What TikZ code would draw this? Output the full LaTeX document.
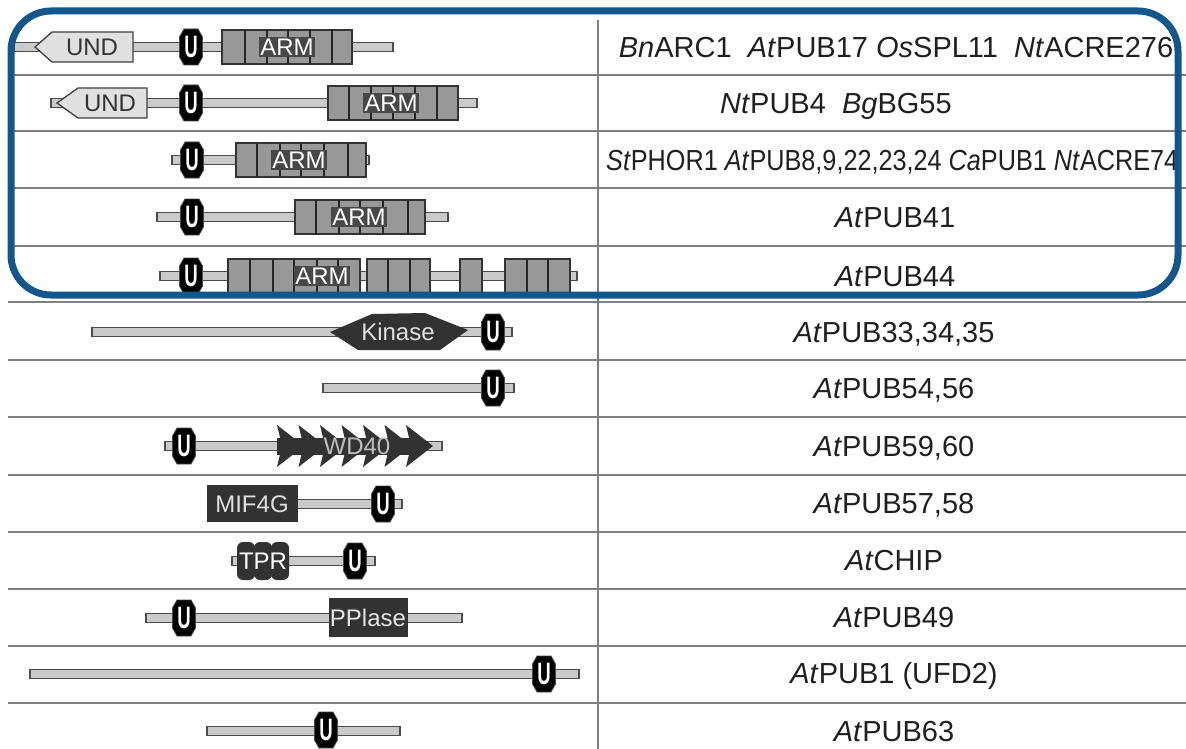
\documentclass[tikz,border=0pt]{standalone}
\usepackage{fontspec}
\setmainfont{Liberation Sans}
\usepackage{graphicx}
\usepackage{tikz}
\definecolor{frameblue}{RGB}{18,86,140}
\definecolor{barfill}{RGB}{202,202,202}
\definecolor{armfill}{RGB}{152,152,152}
\definecolor{darkdom}{RGB}{50,50,50}

\begin{document}
\begin{tikzpicture}[x=1pt, y=-1pt,
    rule/.style={draw=black!50, line width=1.8pt},
    bar/.style={draw=black!70, fill=barfill, line width=1.3pt},
    arm/.style={draw=black!80, fill=armfill, line width=1.3pt},
    armdiv/.style={draw=black!85, line width=1.5pt},
    und/.style={draw=black!75, fill=black!12, line width=1.3pt},
    utext/.style={text=white, inner sep=0pt, font=\fontsize{31}{31}\selectfont\bfseries},
    armlabel/.style={fill=black!72, text=white, inner sep=1.5pt, font=\fontsize{24}{24}\selectfont},
    domtext/.style={inner sep=0pt, font=\fontsize{24}{24}\selectfont},
    protlabel/.style={inner sep=0pt, text height=20.5pt, text depth=0pt, text=black!88, font=\fontsize{29}{29}\selectfont}]

    \useasboundingbox (0,0) rectangle (1186,749);

    % table rules
    \foreach \ry in {75,131,188,246,302,360,417,475,532,589,646,703}
        \draw [rule] (8,\ry) -- (1186,\ry);
    \draw [rule] (598,20) -- (598,749);

    % protein names
    \node [protlabel] (n1) at (896,47) {\textit{Bn}ARC1\ \ \textit{At}PUB17 \textit{Os}SPL11\ \ \textit{Nt}ACRE276};
    \node [protlabel, anchor=west] (n2) at (720,103) {\textit{Nt}PUB4\ \ \textit{Bg}BG55};
    \node [protlabel, anchor=west] (n3) at (606,160) {\scalebox{0.87}[1]{\textit{St}PHOR1 \textit{At}PUB8,9,22,23,24 \textit{Ca}PUB1 \textit{Nt}ACRE74}};
    \node [protlabel] (n4) at (895,217) {\textit{At}PUB41};
    \node [protlabel] (n5) at (895,276) {\textit{At}PUB44};
    \node [protlabel] (n6) at (894,332) {\textit{At}PUB33,34,35};
    \node [protlabel] (n7) at (894,388) {\textit{At}PUB54,56};
    \node [protlabel] (n8) at (894,446) {\textit{At}PUB59,60};
    \node [protlabel] (n9) at (894,503) {\textit{At}PUB57,58};
    \node [protlabel] (n10) at (894,560) {\textit{At}CHIP};
    \node [protlabel] (n11) at (894,617) {\textit{At}PUB49};
    \node [protlabel] (n12) at (894,673) {\textit{At}PUB1 (UFD2)};
    \node [protlabel] (n13) at (894,731) {\textit{At}PUB63};

    % backbones
    \draw [bar] (14,42.5) rectangle (393,51.5);
    \draw [bar] (51,98.5) rectangle (477,107.5);
    \draw [bar] (172,155.5) rectangle (369,164.5);
    \draw [bar] (157,212.5) rectangle (448,221.5);
    \draw [bar] (160,271.5) rectangle (577,280.5);
    \draw [bar] (92,327.5) rectangle (512,336.5);
    \draw [bar] (323,383.5) rectangle (514,392.5);
    \draw [bar] (165,441.5) rectangle (442,450.5);
    \draw [bar] (250,499.5) rectangle (402,508.5);
    \draw [bar] (232,556.5) rectangle (375,565.5);
    \draw [bar] (146,613.5) rectangle (462,622.5);
    \draw [bar] (30,669.5) rectangle (579,678.5);
    \draw [bar] (207,726.5) rectangle (400,735.5);

    % UND
    \draw [und] (35,47) -- (52,32) -- (133,32) -- (133,62) -- (52,62) -- cycle;
    \node [domtext, text=black!80] (und1) at (92,47) {UND};
    \draw [und] (57,103) -- (78,88) -- (147,88) -- (147,118) -- (78,118) -- cycle;
    \node [domtext, text=black!80] (und2) at (110,103) {UND};

    % ARM repeats
    \draw [arm] (222,30) rectangle (352,64);
    \foreach \d in {245,267,288,310,332} \draw [armdiv] (\d,30) -- (\d,64);
    \node [armlabel] (arm1) at (287,47) {ARM};
    \draw [arm] (328,86) rectangle (458,120);
    \foreach \d in {349,371,393,415,437} \draw [armdiv] (\d,86) -- (\d,120);
    \node [armlabel] (arm2) at (391,103) {ARM};
    \draw [arm] (236,143) rectangle (366,177);
    \foreach \d in {257,280,301,324,348} \draw [armdiv] (\d,143) -- (\d,177);
    \node [armlabel] (arm3) at (299,160) {ARM};
    \draw [arm] (295,200) rectangle (425,234);
    \foreach \d in {316,339,360,383,408} \draw [armdiv] (\d,200) -- (\d,234);
    \node [armlabel] (arm4) at (359,217) {ARM};
    \draw [arm] (228,259) rectangle (360,293);
    \foreach \d in {250,273,294,317,338} \draw [armdiv] (\d,259) -- (\d,293);
    \node [armlabel] (arm5) at (322,276) {ARM};
    \draw [arm] (367,259) rectangle (430,293);
    \foreach \d in {388,410} \draw [armdiv] (\d,259) -- (\d,293);
    \draw [arm] (460,259) rectangle (482,293);
    \draw [arm] (505,259) rectangle (570,293);
    \foreach \d in {527,548} \draw [armdiv] (\d,259) -- (\d,293);

    % Kinase
    \fill [darkdom] (330,332) -- (372,314) -- (425,313) -- (468,330) -- (440,350) -- (358,350) -- cycle;
    \node [domtext, text=black!12] (kin) at (398,332) {Kinase};

    % WD40
    \fill [darkdom] (277,438) rectangle (420,455);
    \foreach \k in {0,...,6}
        \fill [darkdom] (277+21.5*\k,425) -- (304+21.5*\k,446) -- (277+21.5*\k,467) -- (282+21.5*\k,446) -- cycle;
    \node [domtext, text=black!25] (wd) at (357,446) {WD40};

    % MIF4G
    \fill [darkdom] (207,485) rectangle (298,522);
    \node [domtext, text=black!12] (mif) at (252,504) {MIF4G};

    % TPR
    \foreach \t in {246,263,280}
        \fill [darkdom, rounded corners=6pt] (\t-9,542) rectangle (\t+9,580);
    \node [domtext, text=white] (tpr) at (263,561) {TPR};

    % PPIase
    \fill [darkdom] (329,598) rectangle (408,637);
    \node [domtext, text=black!10] (ppi) at (368,618) {PPlase};

    % U-box
    \foreach \ux/\uy [count=\i] in {191/47, 191/103, 192/160, 192/217, 191/276, 493/332, 493/388, 184/446, 383/504, 355/561, 184/618, 544/674, 326/730} {
        \fill [black, draw=black!70, line width=0.8pt] (\ux-7,\uy-18) -- (\ux+7,\uy-18) -- (\ux+11.5,\uy-10) -- (\ux+11.5,\uy+10) -- (\ux+7,\uy+18) -- (\ux-7,\uy+18) -- (\ux-11.5,\uy+10) -- (\ux-11.5,\uy-10) -- cycle;
        \node [utext] (u\i) at (\ux,\uy) {\scalebox{0.6}[1]{U}};
    }

    % highlight frame
    \draw [frameblue, line width=7pt, rounded corners=40pt] (11,11) rectangle (1178,295);
\end{tikzpicture}
\end{document}
